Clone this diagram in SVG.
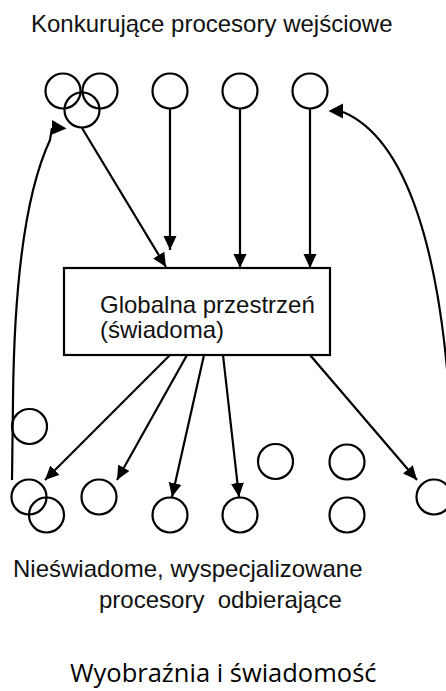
<svg xmlns="http://www.w3.org/2000/svg" width="446" height="691" viewBox="0 0 446 691">
<style>
.c{fill:none;stroke:#000;stroke-width:2.2}
.l{fill:none;stroke:#000;stroke-width:2.2}
.t{font-family:"Liberation Sans",Arial,sans-serif;font-size:24px;fill:#111}
.h{fill:#000}
</style>
<defs>
<marker id="ah" markerUnits="userSpaceOnUse" markerWidth="16" markerHeight="16" refX="14" refY="6.5" orient="auto">
<path d="M0,0 L14,6.5 L0,13 z" fill="#000"/>
</marker>
</defs>
<rect width="446" height="691" fill="#fff"/>
<text class="t" x="31" y="32">Konkurujące procesory wejściowe</text>

<g id="in-a"><circle class="c" cx="63" cy="91" r="17.5"/></g>
<g id="in-b"><circle class="c" cx="100" cy="91" r="17.5"/></g>
<g id="in-c"><circle class="c" cx="82" cy="110" r="17.5"/></g>
<g id="in-d"><circle class="c" cx="170" cy="91" r="17.5"/></g>
<g id="in-e"><circle class="c" cx="240" cy="91" r="17.5"/></g>
<g id="in-f"><circle class="c" cx="310" cy="91" r="17.5"/></g>

<g id="global">
<rect x="64" y="268" width="266" height="87" fill="#fff" stroke="#000" stroke-width="2.2"/>
<text class="t" x="100" y="313">Globalna przestrzeń</text>
<text class="t" x="100" y="338">(świadoma)</text>
</g>

<g id="out-1"><circle class="c" cx="29.5" cy="426.5" r="17.5"/></g>
<g id="out-2"><circle class="c" cx="29" cy="497" r="17.5"/></g>
<g id="out-3"><circle class="c" cx="46.5" cy="515" r="17.5"/></g>
<g id="out-4"><circle class="c" cx="99" cy="497" r="17.5"/></g>
<g id="out-5"><circle class="c" cx="170" cy="515" r="17.5"/></g>
<g id="out-6"><circle class="c" cx="240" cy="515" r="17.5"/></g>
<g id="out-7"><circle class="c" cx="275.5" cy="461.5" r="17.5"/></g>
<g id="out-8"><circle class="c" cx="347" cy="462" r="17.5"/></g>
<g id="out-9"><circle class="c" cx="347" cy="515" r="17.5"/></g>
<g id="out-10"><circle class="c" cx="434" cy="497" r="17.5"/></g>

<g id="connectors">
<line class="l" x1="82" y1="128" x2="166" y2="267" marker-end="url(#ah)"/>
<line class="l" x1="170" y1="108.5" x2="170" y2="250" marker-end="url(#ah)"/>
<line class="l" x1="240" y1="108.5" x2="240" y2="268" marker-end="url(#ah)"/>
<line class="l" x1="310" y1="108.5" x2="310" y2="268" marker-end="url(#ah)"/>

<line class="l" x1="170" y1="355" x2="45" y2="480" marker-end="url(#ah)"/>
<line class="l" x1="187" y1="355" x2="117" y2="480" marker-end="url(#ah)"/>
<line class="l" x1="204" y1="355" x2="172" y2="497" marker-end="url(#ah)"/>
<line class="l" x1="223" y1="355" x2="239" y2="497" marker-end="url(#ah)"/>
<line class="l" x1="310" y1="355" x2="417" y2="480" marker-end="url(#ah)"/>

<path class="l" d="M12 480 L13 400 C14 300 22 200 50 140 L52 128"/>
<polygon class="h" points="52,120 52,134.5 66.5,128.5"/>
<path class="l" d="M448 380 C438 260 410 140 343 112"/>
<polygon class="h" points="328.5,111 343,103.5 343,118.5"/>
</g>

<text class="t" x="13" y="577">Nieświadome, wyspecjalizowane</text>
<text class="t" x="99" y="608" xml:space="preserve">procesory  odbierające</text>
<text x="70" y="682" style="font-family:'Open Sans','Noto Sans',sans-serif;font-size:25.5px;fill:#000">Wyobraźnia i świadomość</text>
</svg>
